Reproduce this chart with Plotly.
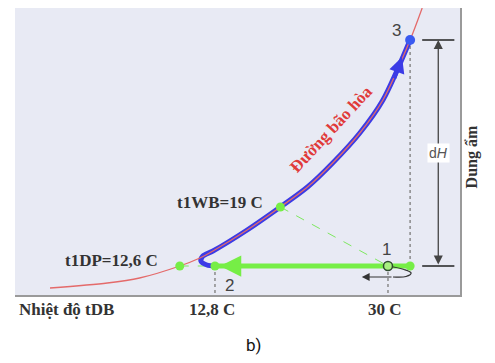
import plotly.graph_objects as go

# Saturation curve (tDB, humidity) (schematic units)
sat_t = [-3.6, 2.1, 5.3, 9.3, 11.3, 12.6, 16.0, 19.3, 22.0, 24.5, 27.2, 29.5, 32.2, 33.4]
sat_w = [0.7, 1.2, 1.7, 2.9, 3.7, 4.4, 6.5, 8.8, 10.8, 13.2, 16.2, 19.5, 25.5, 28.7]

# Process 2 -> 3 (blue), with small hook at start
proc_t = [12.8, 12.0, 11.4, 11.6, 12.6, 16.0, 19.3, 22.0, 24.5, 27.2, 29.5, 32.2]
proc_w = [2.9, 3.0, 3.4, 3.9, 4.4, 6.5, 8.8, 10.8, 13.2, 16.2, 19.5, 25.5]

# Key states
t1, w1 = 30.0, 2.9       # point 1
t2, w2 = 12.8, 2.9       # point 2
t3, w3 = 32.2, 25.5      # point 3
t_dp, w_dp = 9.3, 2.9    # dew point marker
t_wb, w_wb = 19.3, 8.8   # wet bulb marker

# small recirculation loop near point 1
loop_t = [30.0, 31.6, 32.3, 31.8, 30.5]
loop_w = [2.9, 2.55, 2.2, 1.85, 1.8]

dim_x = 35.0
dim_x0, dim_x1 = 33.4, 36.6

x_ticks = [12.8, 30.0]
x_ticktext = ["12,8 C", "30 C"]

GREEN = "#76ee46"
BLUE = "#3b3be6"
RED = "#e46a6a"
SERIF = "Liberation Serif"
SANS = "Liberation Sans"

fig = go.Figure()

# gray dashed guides
for xs, ys in [([t2, t2], [w2, 0]), ([t1, t1], [w1, 0]), ([t3, t3], [w3, w1])]:
    fig.add_trace(go.Scatter(x=xs, y=ys, mode="lines",
                             line=dict(color="#8a8a8a", width=1.5, dash="dot"),
                             hoverinfo="skip", showlegend=False))

# green dashed lines
fig.add_trace(go.Scatter(x=[t_wb, t1], y=[w_wb, w1], mode="lines",
                         line=dict(color="#7ee860", width=1, dash="dash"),
                         showlegend=False))
fig.add_trace(go.Scatter(x=[t_dp, t2], y=[w_dp, w2], mode="lines",
                         line=dict(color="#7ee860", width=1, dash="dash"),
                         showlegend=False))

# blue process line
fig.add_trace(go.Scatter(x=proc_t, y=proc_w, mode="lines",
                         line=dict(color=BLUE, width=5, shape="spline", smoothing=0.8),
                         showlegend=False))
# saturation curve
fig.add_trace(go.Scatter(x=sat_t, y=sat_w, mode="lines",
                         line=dict(color=RED, width=1.3, shape="spline", smoothing=0.8),
                         showlegend=False))

# green cooling line -> 2
fig.add_trace(go.Scatter(x=[t3, t2], y=[w1, w2], mode="lines",
                         line=dict(color=GREEN, width=5),
                         showlegend=False))

# loop near point 1
fig.add_trace(go.Scatter(x=loop_t, y=loop_w, mode="lines",
                         line=dict(color="#333333", width=1.2, shape="spline"),
                         showlegend=False))

# dimension lines
for yy in [w3, w1]:
    fig.add_trace(go.Scatter(x=[dim_x0, dim_x1], y=[yy, yy], mode="lines",
                             line=dict(color="#222222", width=1.5),
                             showlegend=False))

# markers
fig.add_trace(go.Scatter(x=[t3, t2, t_dp, t_wb], y=[w1, w2, w_dp, w_wb], mode="markers",
                         marker=dict(color=GREEN, size=9), showlegend=False))
fig.add_trace(go.Scatter(x=[t1], y=[w1], mode="markers",
                         marker=dict(color="#a8f080", size=9,
                                     line=dict(color="#2f4a2f", width=1.5)),
                         showlegend=False))
fig.add_trace(go.Scatter(x=[t3], y=[w3], mode="markers",
                         marker=dict(color="#3a5af0", size=10), showlegend=False))

ann = []
# blue arrowhead
ann.append(dict(x=31.4, y=23.8, ax=30.6, ay=21.5, xref="x", yref="y", axref="x", ayref="y",
                showarrow=True, arrowhead=2, arrowsize=0.9, arrowwidth=3.5, arrowcolor=BLUE, text=""))
# green arrowhead
ann.append(dict(x=13.3, y=w2, ax=15.5, ay=w2, xref="x", yref="y", axref="x", ayref="y",
                showarrow=True, arrowhead=2, arrowsize=0.85, arrowwidth=5, arrowcolor=GREEN, text=""))
# loop arrow
ann.append(dict(x=27.4, y=1.8, ax=30.5, ay=1.8, xref="x", yref="y", axref="x", ayref="y",
                showarrow=True, arrowhead=2, arrowsize=1.3, arrowwidth=1.2, arrowcolor="#333333", text=""))
# dH double arrow
ann.append(dict(x=dim_x, y=w3, ax=dim_x, ay=w1, xref="x", yref="y", axref="x", ayref="y",
                showarrow=True, arrowhead=2, startarrowhead=2, arrowside="end+start",
                arrowsize=1.4, startarrowsize=1.4, arrowwidth=1.3, arrowcolor="#444444", text=""))
ann.append(dict(x=dim_x, y=14.2, xref="x", yref="y", text="d<i>H</i>", showarrow=False,
                bgcolor="white", font=dict(family=SANS, size=14, color="#555555")))

# point numbers
for txt, xx, yy in [("3", 30.8, 26.5), ("1", 29.9, 4.6), ("2", 14.2, 1.0)]:
    ann.append(dict(x=xx, y=yy, xref="x", yref="y", text=txt, showarrow=False,
                    font=dict(family=SANS, size=17, color="#444444")))

# labels
ann.append(dict(x=17.8, y=9.3, xref="x", yref="y", text="<b>t1WB=19 C</b>", showarrow=False,
                xanchor="right", font=dict(family=SERIF, size=17, color="#333333")))
ann.append(dict(x=7.3, y=3.5, xref="x", yref="y", text="<b>t1DP=12,6 C</b>", showarrow=False,
                xanchor="right", font=dict(family=SERIF, size=17, color="#333333")))
ann.append(dict(x=24.3, y=16.6, xref="x", yref="y", text="<b>Đường bão hòa</b>", showarrow=False,
                textangle=-47, font=dict(family=SERIF, size=17, color="#e03a3a")))

# under-axis texts
for txt, xx in zip(x_ticktext, x_ticks):
    ann.append(dict(x=xx - 0.3, y=-0.05, xref="x", yref="paper", text="<b>" + txt + "</b>",
                    showarrow=False, yanchor="middle",
                    font=dict(family=SERIF, size=17, color="#333333")))
ann.append(dict(x=0.004, y=-0.05, xref="paper", yref="paper", text="<b>Nhiệt độ tDB</b>",
                showarrow=False, xanchor="left", yanchor="middle",
                font=dict(family=SERIF, size=17, color="#333333")))
ann.append(dict(x=1.052, y=0.48, xref="paper", yref="paper", text="<b>Dung ẩm</b>",
                showarrow=False, textangle=-90,
                font=dict(family=SERIF, size=16, color="#333333")))
ann.append(dict(x=0.537, y=-0.175, xref="paper", yref="paper", text="b)",
                showarrow=False, yanchor="middle",
                font=dict(family="Roboto", size=17, color="#111111")))

fig.update_layout(
    width=495, height=363,
    margin=dict(l=15, r=35, t=8, b=68),
    paper_bgcolor="white", plot_bgcolor="#e8eaf4",
    annotations=ann,
    xaxis=dict(range=[-7.08, 37.16], showgrid=False, zeroline=False, showticklabels=False,
               ticks="", showline=True, linecolor="#9a9a9a", linewidth=2, fixedrange=True),
    yaxis=dict(range=[0, 28.7], showgrid=False, zeroline=False, showticklabels=False,
               ticks="", side="right", showline=True, linecolor="#9a9a9a", linewidth=2,
               fixedrange=True),
)

fig.write_html("out.html", config={"displayModeBar": False},
               post_script="document.body.style.margin='0';")
